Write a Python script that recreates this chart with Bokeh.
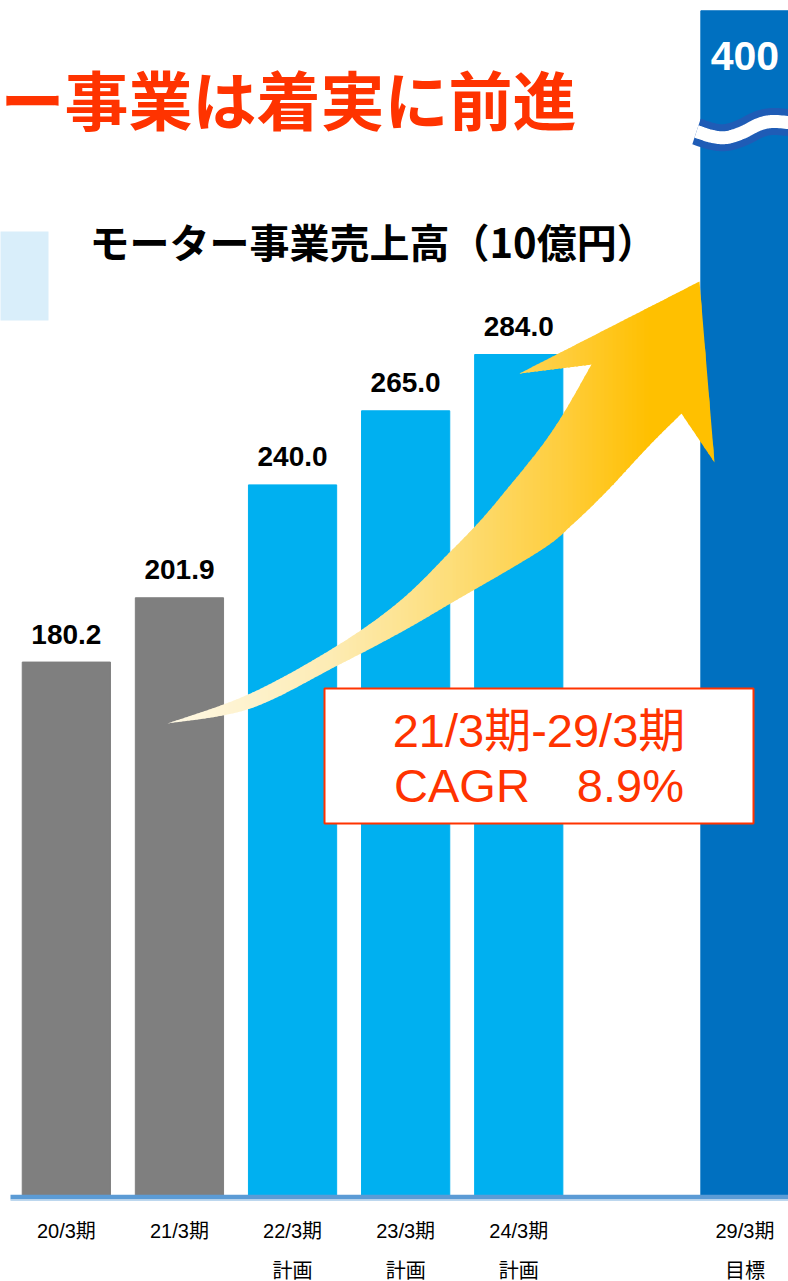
import numpy as np
from bokeh.plotting import figure
from bokeh.models import Range1d, ColumnDataSource
from bokeh.core.properties import value
from bokeh.embed import file_html
from bokeh.resources import INLINE

# ---------------- data ----------------
periods = ["20/3期", "21/3期", "22/3期", "23/3期", "24/3期", "29/3期"]
sub_labels = ["", "", "計画", "計画", "計画", "目標"]
slots = [0, 1, 2, 3, 4, 6]
sales = [180.2, 201.9, 240.0, 265.0, 284.0, 400.0]
bar_colors = ["#7F7F7F", "#7F7F7F", "#00B0F0", "#00B0F0", "#00B0F0", "#0070C0"]
chart_title = "モーター事業売上高（10億円）"
headline = "ー事業は着実に前進"
cagr_lines = ["21/3期-29/3期", "CAGR\u30008.9%"]

# ---------------- layout helpers (picture pixels -> data) ----------------
W, H = 788, 1281
X0_PAGE, SLOT_PX = 65.85, 113.1
BASE_PAGE, UNIT_PX = 1195.5, 2.963


def px2x(px):
    return (px - X0_PAGE) / SLOT_PX


def py2y(py):
    return (BASE_PAGE - py) / UNIT_PX


x_range = Range1d(px2x(0), px2x(W))
y_range = Range1d(py2y(H), py2y(0))

p = figure(width=W, height=H, x_range=x_range, y_range=y_range,
           output_backend="svg", toolbar_location=None, min_border=0,
           x_axis_type=None, y_axis_type=None)
p.grid.visible = False
p.outline_line_color = None
p.background_fill_color = "white"
p.border_fill_color = "white"

JP = value("Noto Sans CJK JP")
AR = value("Liberation Sans, Noto Sans CJK JP")

# light blue side panel
p.quad(left=[px2x(-2)], right=[px2x(48)], top=[py2y(231)], bottom=[py2y(320)],
       fill_color="#D9EEFA", line_color=None)

# headline
p.text(x=[px2x(0)], y=[py2y(96)], text=[headline], text_font=JP,
       text_font_style="bold", text_font_size="64px", text_color="#FF3300",
       text_align="left", text_baseline="middle")

# chart title
p.text(x=[px2x(89)], y=[py2y(240)], text=[chart_title], text_font=JP,
       text_font_style="bold", text_font_size="40px", text_color="#000000",
       text_align="left", text_baseline="middle")

# bars
src = ColumnDataSource(dict(x=slots, top=sales, color=bar_colors, label=periods, sub=sub_labels))
p.vbar(x="x", top="top", bottom=0, width=0.78, color="color", source=src)

# baseline
p.quad(left=[px2x(10)], right=[px2x(790)], top=[py2y(1194.3)], bottom=[py2y(1199)],
       fill_color="#5B9BD5", line_color=None)
p.quad(left=[px2x(10)], right=[px2x(790)], top=[py2y(1199)], bottom=[py2y(1200.5)],
       fill_color="#BDD7EE", line_color=None)

# ---------------- gradient arrow ----------------
def catmull(pts, n=10):
    pts = np.asarray(pts, float)
    P = np.vstack([pts[0], pts, pts[-1]])
    out = []
    for i in range(1, len(P) - 2):
        p0, p1, p2, p3 = P[i - 1], P[i], P[i + 1], P[i + 2]
        for t in np.linspace(0, 1, n, endpoint=False):
            t2, t3 = t * t, t * t * t
            out.append(0.5 * ((2 * p1) + (-p0 + p2) * t + (2 * p0 - 5 * p1 + 4 * p2 - p3) * t2
                              + (-p0 + 3 * p1 - 3 * p2 + p3) * t3))
    out.append(P[-2])
    return [tuple(q) for q in out]


upper = catmull([(167, 723), (250, 693), (337, 645), (400, 600), (450, 551), (480, 520),
                 (507, 488), (540, 447), (563, 413), (591, 364)])
head = [(519, 373), (699, 281), (714, 462)]
lower = catmull([(681, 413), (647, 447), (607, 490), (573, 523), (540, 550), (450, 603),
                 (400, 632), (337, 665), (250, 708), (167, 723)])
arrow = upper + head + lower


def clip(poly, a, keep_greater):
    out = []
    n = len(poly)
    for i in range(n):
        P, Q = poly[i], poly[(i + 1) % n]
        inP = P[0] >= a if keep_greater else P[0] <= a
        inQ = Q[0] >= a if keep_greater else Q[0] <= a
        if inP:
            out.append(P)
        if inP != inQ:
            t = (a - P[0]) / (Q[0] - P[0])
            out.append((a, P[1] + t * (Q[1] - P[1])))
    return out


stops_x = [167, 330, 450, 560, 650, 720]
stops_c = [(255, 249, 230), (253, 236, 180), (253, 222, 122), (255, 206, 62), (255, 192, 0), (255, 192, 0)]


def grad(x):
    r = np.interp(x, stops_x, [c[0] for c in stops_c])
    g = np.interp(x, stops_x, [c[1] for c in stops_c])
    b = np.interp(x, stops_x, [c[2] for c in stops_c])
    return "#%02x%02x%02x" % (int(r), int(g), int(b))


xs_all, ys_all, cols = [], [], []
step = 4
a = 160
while a < 720:
    piece = clip(clip(arrow, a, True), a + step + 1.0, False)
    if len(piece) >= 3:
        xs_all.append([px2x(q[0]) for q in piece])
        ys_all.append([py2y(q[1]) for q in piece])
        cols.append(grad(a + step / 2))
    a += step
p.patches(xs=xs_all, ys=ys_all, fill_color=cols, line_color=None)

# ---------------- wave break on the 400 bar ----------------
wave = catmull([(696, 131), (712, 136), (726, 137), (742, 132), (758, 124),
                (772, 121), (792, 122.5)], n=12)
wx = [px2x(q[0]) for q in wave]
wy = [py2y(q[1]) for q in wave]
p.line(x=wx, y=wy, line_color="#1F5CB6", line_width=27, line_cap="butt")
p.line(x=wx, y=wy, line_color="white", line_width=13, line_cap="butt")

# ---------------- value labels ----------------
p.text(x=slots[:5], y=sales[:5], text=["%.1f" % v for v in sales[:5]], text_font=AR,
       text_font_style="bold", text_font_size="28px", text_color="#000000",
       text_align="center", text_baseline="middle", y_offset=-28)
p.text(x=[slots[5]], y=[sales[5]], text=["%d" % sales[5]], text_font=AR,
       text_font_style="bold", text_font_size="41px", text_color="white",
       text_align="center", text_baseline="middle", y_offset=45)

# ---------------- category labels ----------------
p.text(x="x", y=py2y(1230), text="label", source=src, text_font=AR,
       text_font_size="20px", text_color="#000000", text_align="center",
       text_baseline="middle")
p.text(x="x", y=py2y(1270), text="sub", source=src, text_font=AR,
       text_font_size="20px", text_color="#000000", text_align="center",
       text_baseline="middle")

# ---------------- CAGR box ----------------
p.quad(left=[px2x(324)], right=[px2x(753)], top=[py2y(688)], bottom=[py2y(823)],
       fill_color="white", line_color="#FF3300", line_width=2)
p.text(x=[px2x(538.5)] * 2, y=[py2y(730), py2y(785)], text=cagr_lines, text_font=AR,
       text_font_size="47px", text_color="#FF3300", text_align="center",
       text_baseline="middle")

open("out.html", "w").write(file_html(p, INLINE))
